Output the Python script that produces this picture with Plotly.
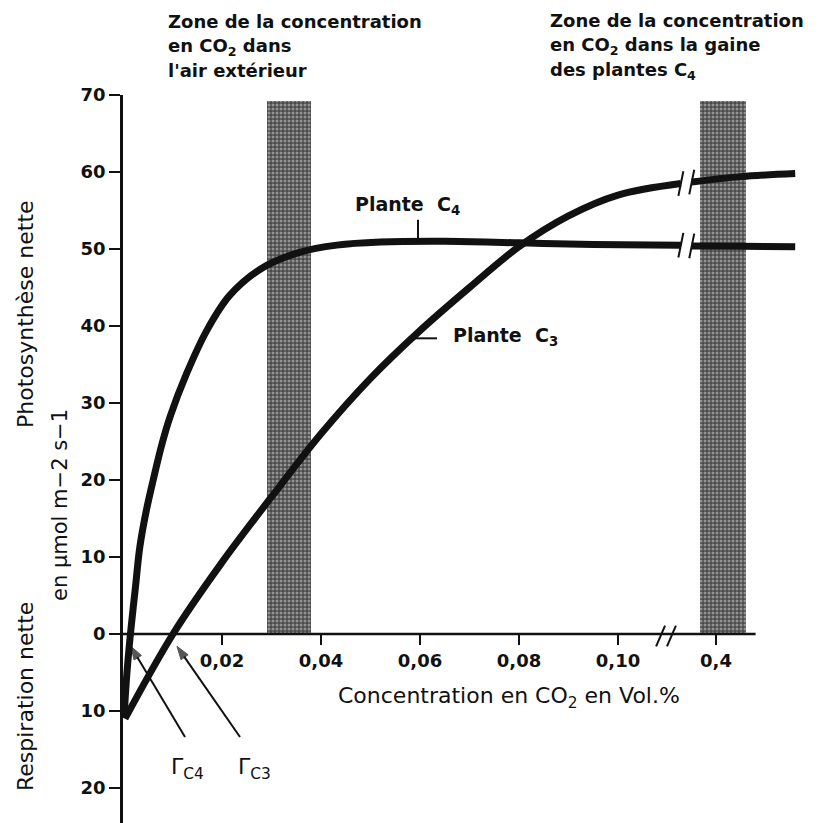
import plotly.graph_objects as go

# ---------------- data ----------------
X_TICK_VALUES = [0.02, 0.04, 0.06, 0.08, 0.10, 0.4]
X_TICK_LABELS = ["0,02", "0,04", "0,06", "0,08", "0,10", "0,4"]
Y_TICK_VALUES = [-20, -10, 0, 10, 20, 30, 40, 50, 60, 70]
Y_TICK_LABELS = ["20", "10", "0", "10", "20", "30", "40", "50", "60", "70"]

# C4 plant, part before the axis break (CO2 in vol.%, net photosynthesis)
C4_X_LOW = [0.0002, 0.0008, 0.0015, 0.0025, 0.0034, 0.0047, 0.0061, 0.0078, 0.0095,
            0.0129, 0.017, 0.0216, 0.0283, 0.0358, 0.0432, 0.052, 0.065, 0.08, 0.095, 0.1127]
C4_Y_LOW = [-10.9, -5, 0, 6, 11.3, 16, 20, 24.5, 28.2,
            33.9, 39.5, 44.0, 47.6, 49.6, 50.5, 50.9, 51.0, 50.8, 50.6, 50.5]
# C3 plant, part before the axis break
C3_X_LOW = [0.0004, 0.0101, 0.02, 0.03, 0.04, 0.05, 0.06, 0.07, 0.08, 0.09, 0.10, 0.1127]
C3_Y_LOW = [-11.0, 0, 9.3, 17.8, 26.0, 33.2, 39.4, 45, 50.3, 54.3, 57, 58.5]
# parts after the axis break
C4_X_HIGH = [0.351, 0.45, 0.56]
C4_Y_HIGH = [50.4, 50.35, 50.3]
C3_X_HIGH = [0.351, 0.45, 0.56]
C3_Y_HIGH = [58.7, 59.4, 59.8]

BAND_AIR = [0.029, 0.038]      # outside air CO2 zone
BAND_SHEATH = [0.368, 0.461]   # CO2 zone in C4 bundle sheath
BAND_TOP = 69.2
X_AXIS_END = 0.48
GAMMA_C4 = 0.0016
GAMMA_C3 = 0.0109

# ---------------- scale with break ----------------
BREAK_REAL = 0.4
BREAK_DISPLAY = 0.1198
BREAK_SCALE = 0.1


def xd(v):
    return v if v < 0.2 else BREAK_DISPLAY + (v - BREAK_REAL) * BREAK_SCALE


def xs(vals):
    return [xd(v) for v in vals]


# pixel helpers for placing text (plot area: x 123..800, y 95..823)
PX_X0, PX_PER_X = 123, 4950.0
PX_Y0, PX_PER_Y = 634, 7.7
PLOT_L, PLOT_R, PLOT_T, PLOT_B = 123, 800, 95, 823


def px_x(px):
    return (px - PX_X0) / PX_PER_X


def px_y(py):
    return (PX_Y0 - py) / PX_PER_Y


def paper_x(px):
    return (px - PLOT_L) / (PLOT_R - PLOT_L)


def paper_y(py):
    return (PLOT_B - py) / (PLOT_B - PLOT_T)


X_RANGE = [0, px_x(PLOT_R)]
Y_RANGE = [px_y(PLOT_B), px_y(PLOT_T)]

FONT = "DejaVu Sans"
BLACK = "#111111"

fig = go.Figure()

# bands
for band in (BAND_AIR, BAND_SHEATH):
    a, b = xd(band[0]), xd(band[1])
    fig.add_trace(go.Bar(
        x=[(a + b) / 2], y=[BAND_TOP], base=0, width=[b - a],
        marker=dict(color="#7a7a7a", line=dict(width=0),
                    pattern=dict(shape=".", fgcolor="#dcdcdc", bgcolor="#4a4a4a",
                                 size=4, solidity=0.45)),
        hoverinfo="skip"))

# x axis line at y=0
fig.add_trace(go.Scatter(x=[0, xd(X_AXIS_END)], y=[0, 0], mode="lines",
                         line=dict(color=BLACK, width=2.5), hoverinfo="skip"))
# axis break marks
for bx in (0.1086, 0.1108):
    fig.add_trace(go.Scatter(x=[bx - 0.0009, bx + 0.0009], y=[-1.6, 1.1], mode="lines",
                             line=dict(color=BLACK, width=2), hoverinfo="skip"))

# curves
for xl, yl, xh, yh in ((C4_X_LOW, C4_Y_LOW, C4_X_HIGH, C4_Y_HIGH),
                       (C3_X_LOW, C3_Y_LOW, C3_X_HIGH, C3_Y_HIGH)):
    fig.add_trace(go.Scatter(x=xs(xl), y=yl, mode="lines",
                             line=dict(color=BLACK, width=7, shape="spline", smoothing=1.0),
                             hoverinfo="skip"))
    fig.add_trace(go.Scatter(x=xs(xh), y=yh, mode="lines",
                             line=dict(color=BLACK, width=7, shape="spline", smoothing=1.0),
                             hoverinfo="skip"))
    # break slashes on the curve
    for bx, by in ((xd(xl[-1]), yl[-1]), (xd(xh[0]), yh[0])):
        fig.add_trace(go.Scatter(x=[bx - 0.0005, bx + 0.0005], y=[by - 1.6, by + 1.6],
                                 mode="lines", line=dict(color=BLACK, width=2),
                                 hoverinfo="skip"))

# label leader lines
fig.add_trace(go.Scatter(x=[px_x(418), px_x(418)], y=[51.0, 53.8], mode="lines",
                         line=dict(color=BLACK, width=2), hoverinfo="skip"))
fig.add_trace(go.Scatter(x=[px_x(411), px_x(437)], y=[38.4, 38.4], mode="lines",
                         line=dict(color=BLACK, width=2), hoverinfo="skip"))

# compensation point arrows
for head_x, tail_px in ((GAMMA_C4, 185), (GAMMA_C3, 240)):
    fig.add_trace(go.Scatter(
        x=[px_x(tail_px), head_x], y=[px_y(737), -1.6], mode="lines+markers",
        line=dict(color=BLACK, width=2),
        marker=dict(symbol="arrow", size=[0, 14], angleref="previous", color=BLACK,
                    line=dict(width=1, color=BLACK)),
        hoverinfo="skip"))

ann = []


def text(px, py, s, size=17, bold=False, xanchor="center", angle=0):
    ann.append(dict(x=paper_x(px), y=paper_y(py), xref="paper", yref="paper", text=s,
                    showarrow=False, xanchor=xanchor, yanchor="middle", textangle=angle,
                    font=dict(family=FONT, size=size, color=BLACK,
                              weight="bold" if bold else "normal")))


# top texts
text(166, 22, "Zone de la concentration", 18, True, "left")
text(166, 47, "en CO<sub>2</sub> dans", 18, True, "left")
text(166, 71, "l'air extérieur", 18, True, "left")
text(548, 21, "Zone de la concentration", 18, True, "left")
text(548, 46, "en CO<sub>2</sub> dans la gaine", 18, True, "left")
text(548, 71, "des plantes C<sub>4</sub>", 18, True, "left")

# curve labels
text(407, 205, "Plante  C<sub>4</sub>", 19, True)
text(505, 336, "Plante  C<sub>3</sub>", 19, True)

# axis titles
text(509, 697, "Concentration en CO<sub>2</sub> en Vol.%", 22, False)
text(25, 314, "Photosynthèse nette", 22, False, angle=-90)
text(60, 505, "en µmol m−2 s−1", 21, False, angle=-90)
text(25, 697, "Respiration nette", 22, False, angle=-90)

# Gamma labels
text(187, 768, "Γ<sub>C4</sub>", 22, False)
text(254, 768, "Γ<sub>C3</sub>", 22, False)

fig.update_layout(
    width=824, height=823,
    margin=dict(l=PLOT_L, r=824 - PLOT_R, t=PLOT_T, b=823 - PLOT_B, autoexpand=False),
    paper_bgcolor="white", plot_bgcolor="white",
    showlegend=False, barmode="overlay", bargap=0,
    annotations=ann,
    xaxis=dict(range=X_RANGE, showgrid=False, zeroline=False, showline=False,
               automargin=False,
               anchor="free", position=(0 - Y_RANGE[0]) / (Y_RANGE[1] - Y_RANGE[0]),
               tickmode="array", tickvals=xs(X_TICK_VALUES), ticktext=X_TICK_LABELS,
               ticks="outside", ticklen=10, tickwidth=2, tickcolor=BLACK,
               tickfont=dict(family=FONT, size=18, color=BLACK, weight="bold")),
    yaxis=dict(range=Y_RANGE, showgrid=False, zeroline=False, showline=True,
               automargin=False,
               linecolor=BLACK, linewidth=2.5,
               tickmode="array", tickvals=Y_TICK_VALUES, ticktext=Y_TICK_LABELS,
               ticks="outside", ticklen=11, tickwidth=2, tickcolor=BLACK,
               tickfont=dict(family=FONT, size=18, color=BLACK, weight="bold")),
)

fig.write_html("out.html", config={"displayModeBar": False},
               post_script="document.body.style.margin='0';")
